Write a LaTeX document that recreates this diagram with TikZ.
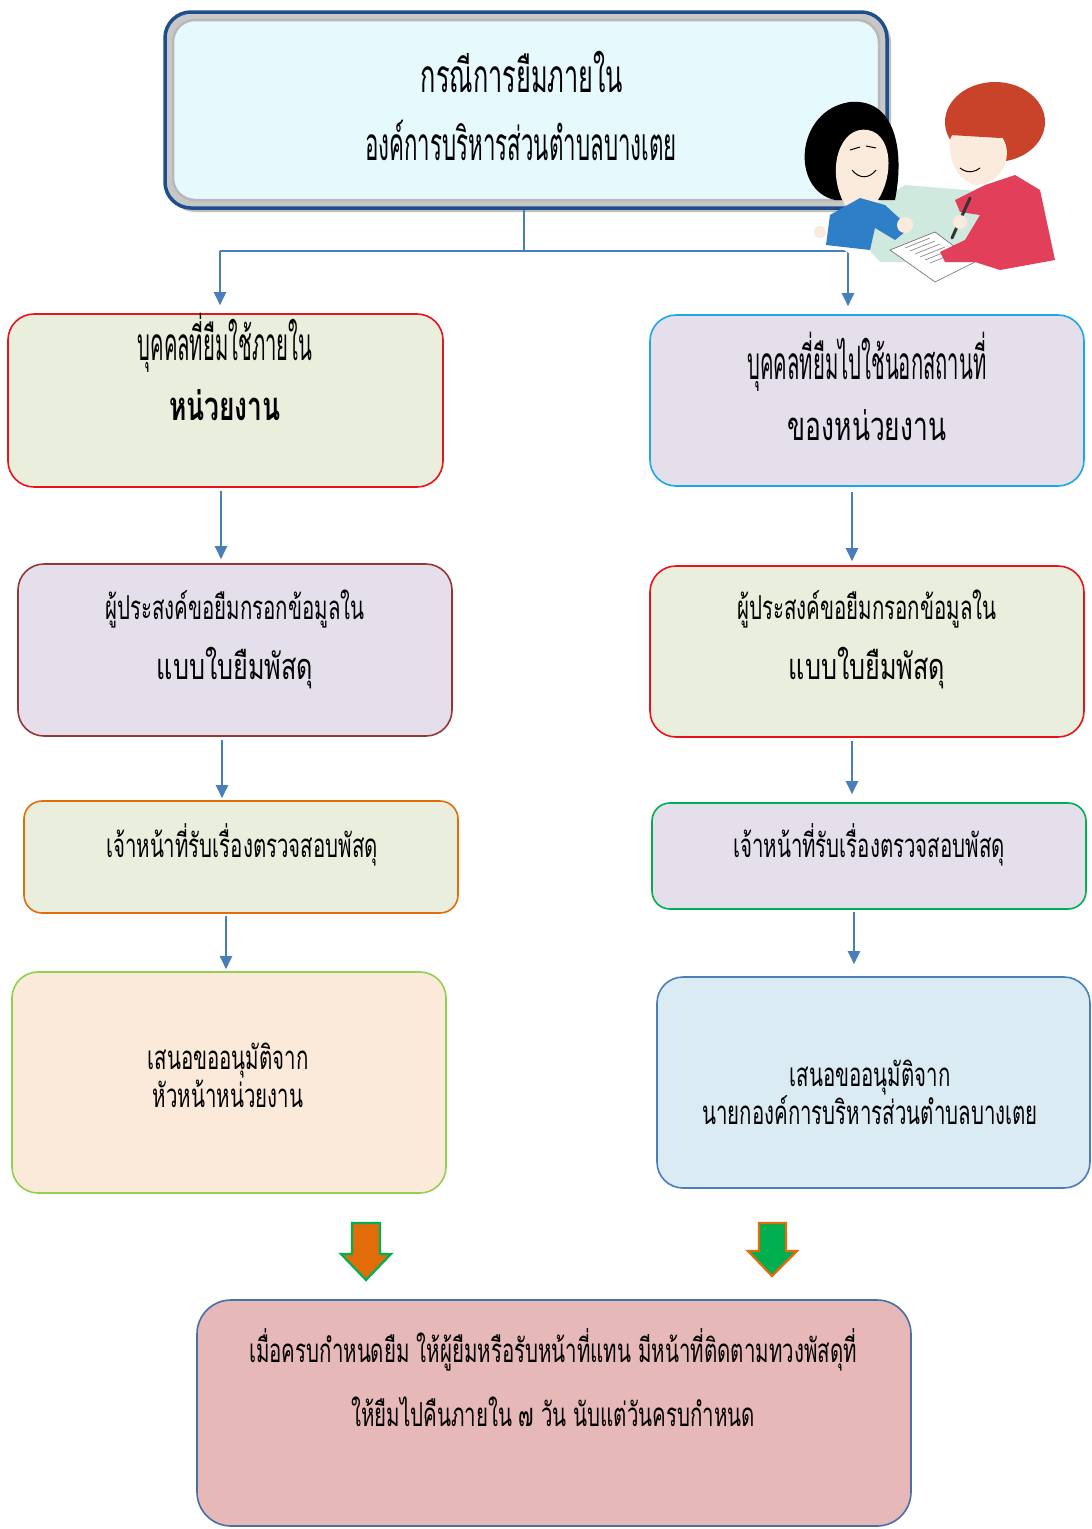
\documentclass[tikz,border=0pt]{standalone}
\usepackage{fontspec}
\newfontfamily\thaifont[Script=Thai,FakeStretch=0.62]{Loma}
\newfontfamily\thaihead[Script=Thai,FakeStretch=0.44]{Loma}
\newfontfamily\thaititle[Script=Thai,FakeStretch=0.55]{Loma}
\newfontfamily\thaisub[Script=Thai,FakeStretch=0.485]{Loma}
\newfontfamily\thaiwide[Script=Thai,FakeStretch=0.7]{Loma}
\newfontfamily\thaibold[Script=Thai,FakeStretch=0.66]{Loma}
\usetikzlibrary{arrows.meta}
\definecolor{arrowblue}{HTML}{4A7EBB}
\definecolor{titlefill}{HTML}{E6F9FD}
\definecolor{titleedge}{HTML}{1F4E8C}
\definecolor{olivefill}{HTML}{EAEEDD}
\definecolor{lavfill}{HTML}{E5DFEC}
\definecolor{peachfill}{HTML}{FBE9DA}
\definecolor{skyfill}{HTML}{DBEBF4}
\definecolor{rosefill}{HTML}{E6B8B7}
\definecolor{redline}{HTML}{E8141A}
\definecolor{cyanline}{HTML}{1BA9E5}
\definecolor{maroonline}{HTML}{953735}
\definecolor{orangeline}{HTML}{E36C0A}
\definecolor{greenline}{HTML}{00B050}
\definecolor{limeline}{HTML}{92D050}
\definecolor{steelline}{HTML}{4A6FA5}
\definecolor{skin}{HTML}{FBEBDC}
\definecolor{shirtblue}{HTML}{2F7FC8}
\definecolor{boyhair}{HTML}{C8432A}
\definecolor{shirtred}{HTML}{E2405A}
\definecolor{paper}{HTML}{CFE9DF}
\tikzset{
  box/.style={draw, rounded corners=26pt, line width=1.6pt, inner sep=0pt},
  flow/.style={draw=arrowblue, line width=2pt, -{Triangle[length=13pt,width=12pt]}},
  big/.style={font=\thaihead\fontsize{46}{54}\selectfont, align=center, inner sep=0pt},
  small/.style={font=\thaifont\fontsize{33}{40}\selectfont, align=center, inner sep=0pt},
  blockarrow/.style={line width=2.2pt, line join=miter}
}
\begin{document}
\begin{tikzpicture}[x=1pt,y=-1pt]
\useasboundingbox (0,0) rectangle (1092,1529);
\fill[white] (0,0) rectangle (1092,1529);

% title panel with bevelled frame
\fill[black!25, rounded corners=26pt] (169,16) rectangle (891,212);
\node[box, draw=titleedge, line width=3.5pt, fill=black!22, minimum width=722pt, minimum height=196pt] (title) at (526,110) {};
\draw[rounded corners=22pt, fill=titlefill, draw=black!28, line width=2.5pt] (173,20) rectangle (879,200);
\node[big, font=\thaititle\fontsize{46}{54}\selectfont] at (522,72) {กรณีการยืมภายใน};
\node[big, font=\thaisub\fontsize{46}{54}\selectfont] at (521,140) {องค์การบริหารส่วนตำบลบางเตย};

% split connector
\coordinate (split) at (524,251);
\coordinate (lhead) at (220,251);
\coordinate (rhead) at (848,251);
\draw[arrowblue, line width=2pt] (title.south -| split) -- (split);
\draw[arrowblue, line width=2pt] (lhead) -- (rhead);

% left column
\node[box, draw=redline, fill=olivefill, minimum width=435pt, minimum height=173pt] (l1) at (225.5,400.5) {};
\node[big] at (225,343) {บุคคลที่ยืมใช้ภายใน};
\node[big, font=\thaibold\bfseries\fontsize{40}{48}\selectfont] at (225,405) {หน่วยงาน};

\node[box, draw=maroonline, fill=lavfill, minimum width=434pt, minimum height=172pt] (l2) at (235,650) {};
\node[small] at (235,609) {ผู้ประสงค์ขอยืมกรอกข้อมูลใน};
\node[small, font=\thaiwide\fontsize{36}{44}\selectfont] at (235,668) {แบบใบยืมพัสดุ};

\node[box, draw=orangeline, fill=olivefill, minimum width=434pt, minimum height=112pt, rounded corners=18pt] (l3) at (241,857) {};
\node[small] at (242,845) {เจ้าหน้าที่รับเรื่องตรวจสอบพัสดุ};

\node[box, draw=limeline, fill=peachfill, minimum width=434pt, minimum height=221pt] (l4) at (229,1082.5) {};
\node[small] at (228,1075) {เสนอขออนุมัติจาก\\[-2pt]หัวหน้าหน่วยงาน};

% right column
\node[box, draw=cyanline, fill=lavfill, minimum width=434pt, minimum height=171pt] (r1) at (867,400.5) {};
\node[big] at (867,362) {บุคคลที่ยืมไปใช้นอกสถานที่};
\node[big, font=\thaibold\fontsize{40}{48}\selectfont] at (867,425) {ของหน่วยงาน};

\node[box, draw=redline, fill=olivefill, minimum width=434pt, minimum height=171pt] (r2) at (867,651.5) {};
\node[small] at (867,609) {ผู้ประสงค์ขอยืมกรอกข้อมูลใน};
\node[small, font=\thaiwide\fontsize{36}{44}\selectfont] at (867,668) {แบบใบยืมพัสดุ};

\node[box, draw=greenline, fill=lavfill, minimum width=434pt, minimum height=106pt, rounded corners=18pt] (r3) at (869,856) {};
\node[small] at (869,845) {เจ้าหน้าที่รับเรื่องตรวจสอบพัสดุ};

\node[box, draw=arrowblue, fill=skyfill, minimum width=433pt, minimum height=211pt] (r4) at (873.5,1082.5) {};
\node[small] at (870,1092) {เสนอขออนุมัติจาก\\[-2pt]นายกองค์การบริหารส่วนตำบลบางเตย};

% vertical connectors
\draw[flow] (lhead) -- ([yshift=8pt]lhead |- l1.north);
\draw[flow] (rhead) -- ([yshift=8pt]rhead |- r1.north);
\draw[flow] ([yshift=-3pt]221,0 |- l1.south) -- ([yshift=4pt]221,0 |- l2.north);
\draw[flow] ([yshift=-5pt]852,0 |- r1.south) -- ([yshift=4pt]852,0 |- r2.north);
\draw[flow] ([yshift=-3pt]222,0 |- l2.south) -- ([yshift=2pt]222,0 |- l3.north);
\draw[flow] ([yshift=-3pt]852,0 |- r2.south) -- ([yshift=8pt]852,0 |- r3.north);
\draw[flow] ([yshift=-2pt]226,0 |- l3.south) -- ([yshift=2pt]226,0 |- l4.north);
\draw[flow] ([yshift=-2pt]854,0 |- r3.south) -- ([yshift=12pt]854,0 |- r4.north);

% block arrows towards the closing step
\draw[blockarrow, draw=greenline, fill=orangeline]
  (352,1223) -- (380,1223) -- (380,1254) -- (391,1254) -- (366,1280) -- (341,1254) -- (352,1254) -- cycle;
\draw[blockarrow, draw=orangeline, fill=greenline]
  (759,1223) -- (786,1223) -- (786,1251) -- (797,1251) -- (772,1276) -- (748,1251) -- (759,1251) -- cycle;

% closing step
\node[box, draw=steelline, fill=rosefill, minimum width=714pt, minimum height=226pt, rounded corners=34pt] (fin) at (554,1413) {};
\node[small] at (553,1350) {เมื่อครบกำหนดยืม ให้ผู้ยืมหรือรับหน้าที่แทน มีหน้าที่ติดตามทวงพัสดุที่};
\node[small] at (553,1412) {ให้ยืมไปคืนภายใน ๗ วัน นับแต่วันครบกำหนด};

% two people filling in a form
\fill[white] (808,228) -- (850,205) -- (905,180) -- (1000,190) -- (1050,270) -- (960,288) -- (880,272) -- cycle;
\fill[paper] (845,222) -- (905,185) -- (990,192) -- (1010,235) -- (945,262) -- (880,262) -- cycle;
\fill[white, draw=black!60, line width=0.6pt] (890,250) -- (935,232) -- (975,262) -- (935,282) -- cycle;
\foreach \k in {0,...,5} \draw[black!45, line width=0.7pt] (905+5*\k,248+3*\k) -- (930+5*\k,238+3*\k);
% girl
\fill[black] (835,200) .. controls (790,190) and (795,110) .. (850,102) .. controls (895,98) and (905,150) .. (895,200) -- cycle;
\fill[skin] (845,205) .. controls (825,170) and (840,125) .. (868,130) .. controls (895,135) and (895,185) .. (870,210) -- cycle;
\draw[black, line width=1pt] (850,150) -- (860,147) (866,146) -- (876,148);
\draw[black, line width=1pt] (852,170) .. controls (860,180) and (870,178) .. (876,170);
\fill[shirtblue] (826,245) -- (830,215) -- (860,198) -- (885,205) -- (910,228) -- (895,240) -- (875,228) -- (870,250) -- cycle;
\fill[skin] (905,225) circle (8pt);
\fill[skin] (820,232) circle (6pt);
% boy
\fill[boyhair] (995,122) ellipse (50pt and 40pt);
\fill[skin] (950,150) .. controls (945,125) and (975,120) .. (1000,135) .. controls (1015,150) and (1005,185) .. (975,185) .. controls (960,180) and (952,168) .. (950,150) -- cycle;
\fill[boyhair] (950,135) .. controls (960,110) and (1010,105) .. (1020,135) -- (1000,138) -- cycle;
\draw[black, line width=1pt] (960,168) .. controls (968,174) and (975,172) .. (980,168);
\fill[shirtred] (985,185) -- (1015,175) -- (1040,190) -- (1055,260) -- (1000,270) -- (975,262) -- (945,262) -- (940,252) -- (965,240) -- (980,215) -- (960,212) -- (955,200) -- cycle;
\draw[black!80, line width=3pt, line cap=round] (952,238) -- (970,198);
\fill[skin] (960,222) circle (7pt);
\end{tikzpicture}
\end{document}
